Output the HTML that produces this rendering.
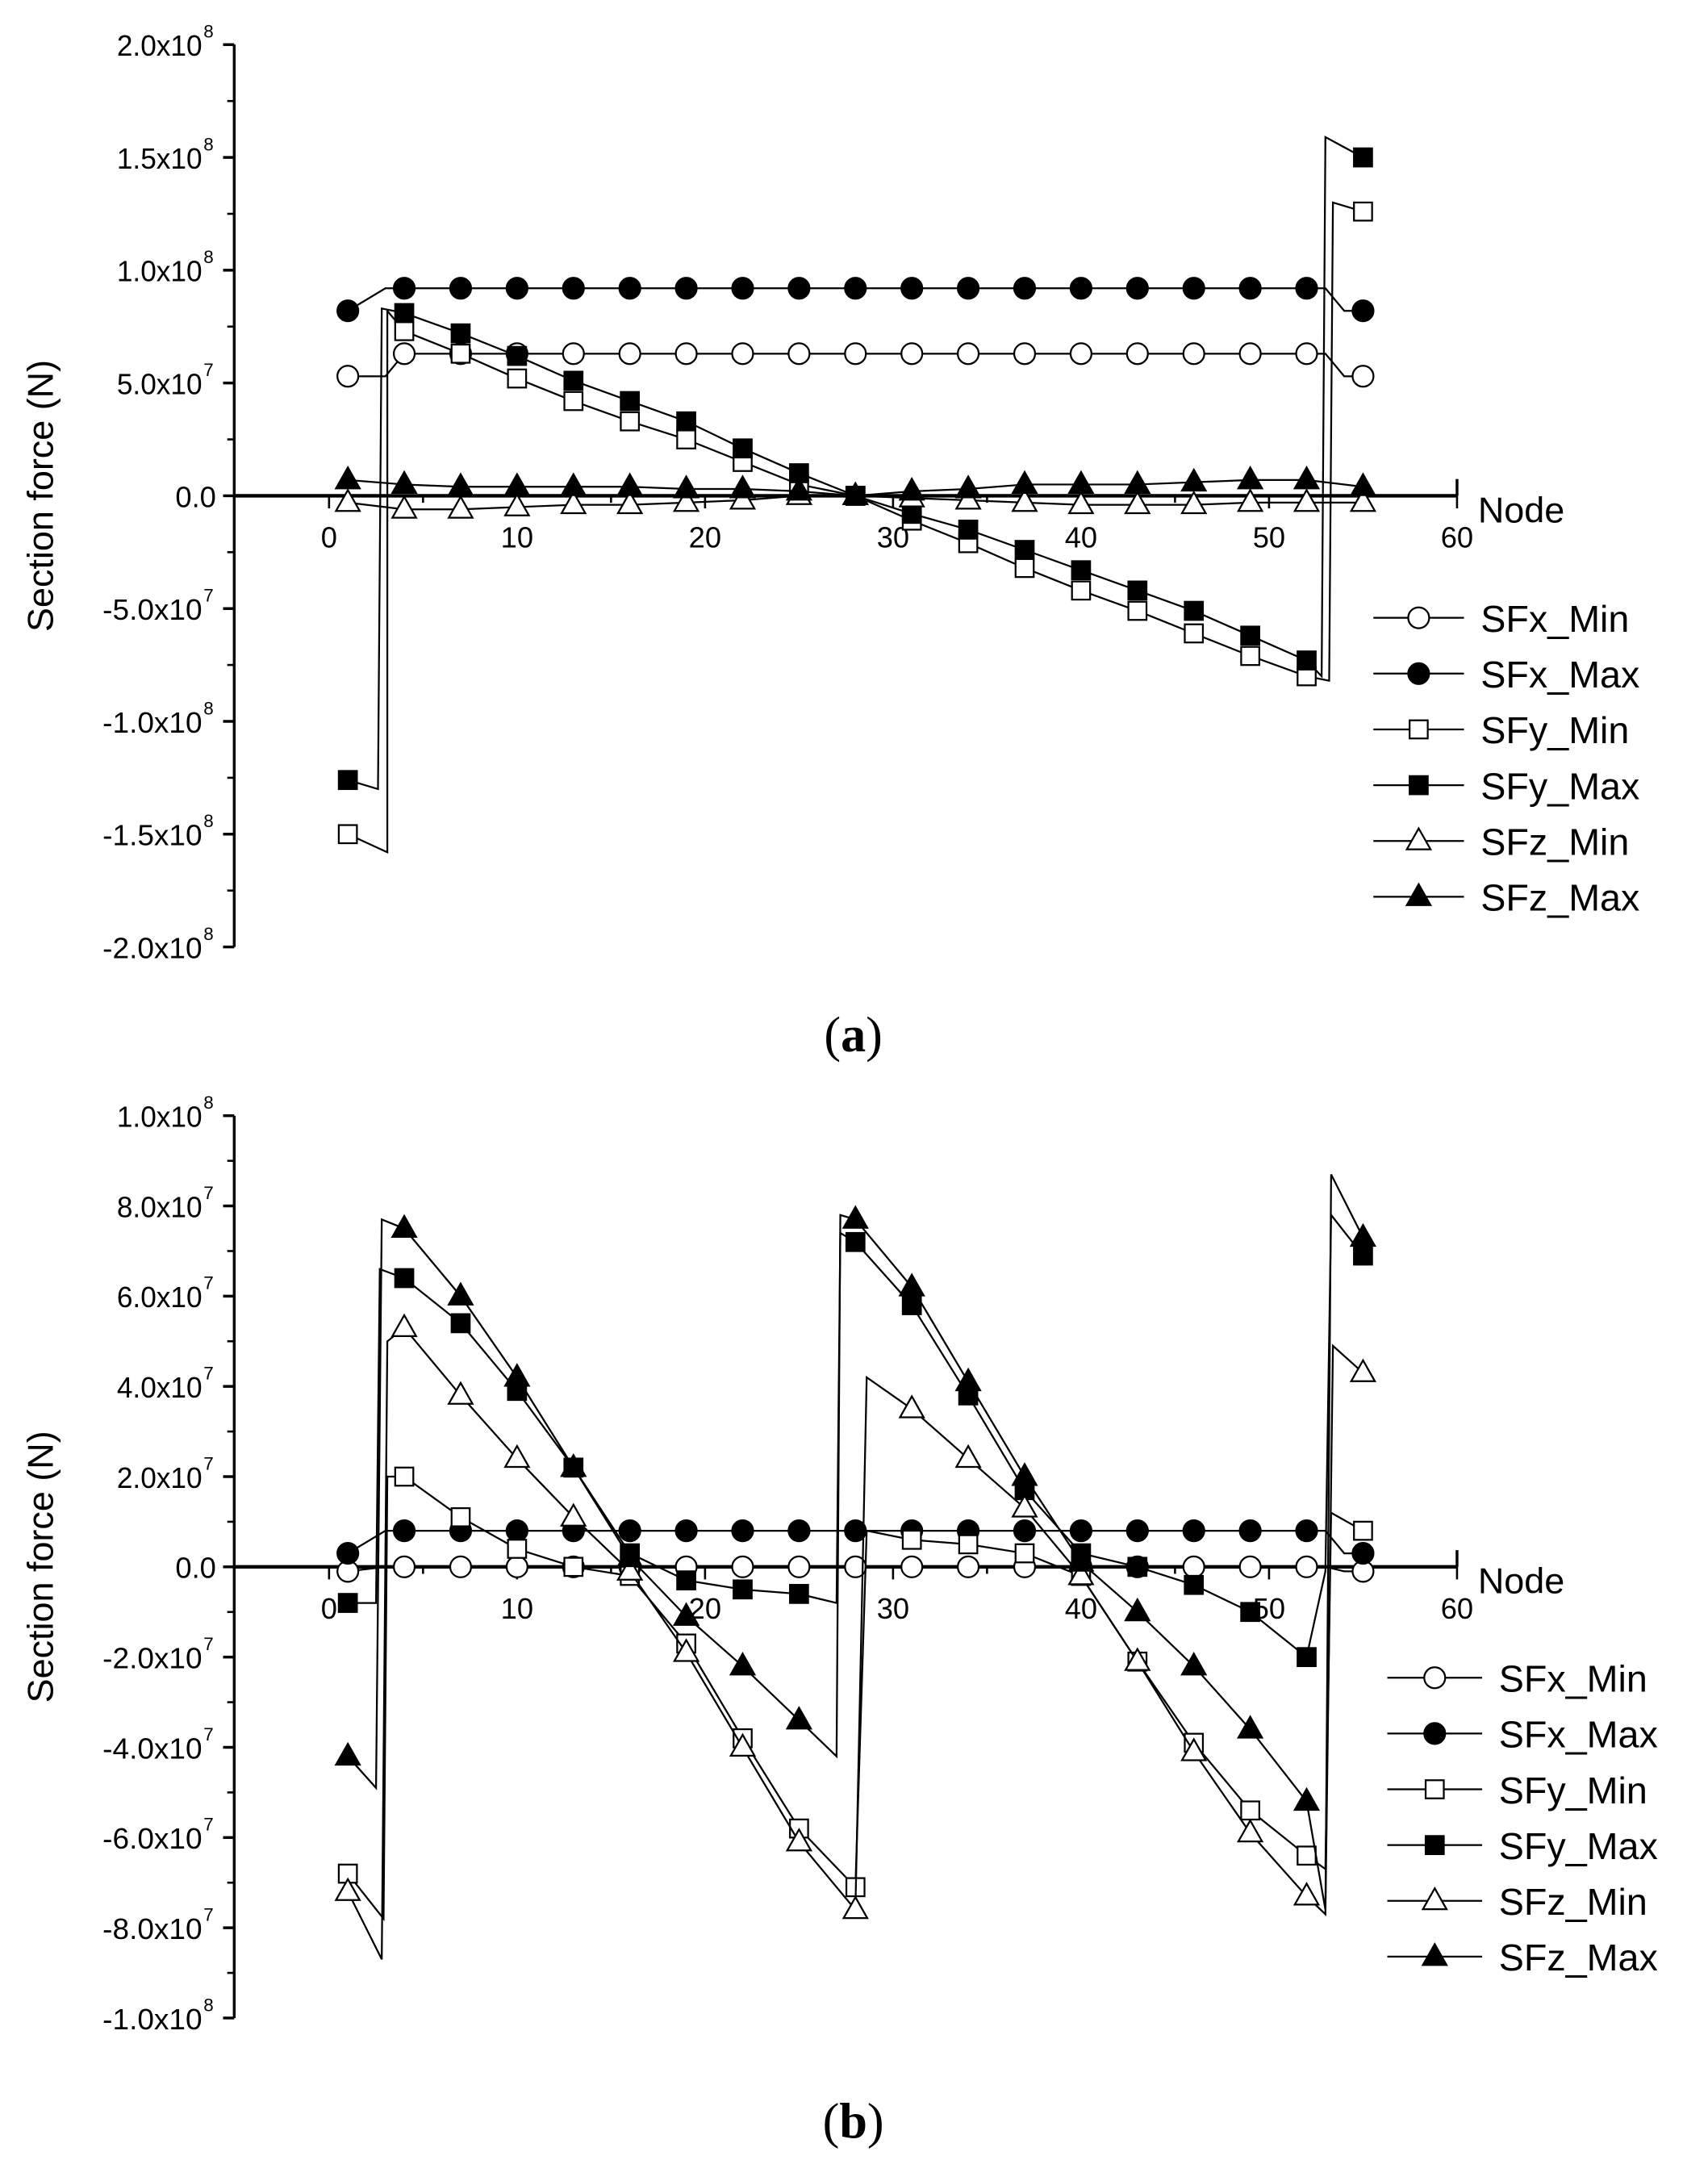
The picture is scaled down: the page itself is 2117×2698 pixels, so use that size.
<!DOCTYPE html>
<html><head><meta charset="utf-8"><style>
html,body{margin:0;padding:0;background:#fff;}
svg{display:block}
text{font-family:"Liberation Sans",Arial,sans-serif;fill:#000}
</style></head><body>
<svg id="s" width="2117" height="2698" viewBox="0 0 1225 1561" preserveAspectRatio="none" xmlns="http://www.w3.org/2000/svg"></svg>
<script>
const S=document.getElementById('s');let h='';
const X0=236,XS=(1045-236)/60;
function px(n){return X0+n*XS;}
function panel(cfg){
  const {top,bot,zero,vmax,nt,labels,pts,leg,cap,capy}=cfg;
  const py=v=>zero-(v/vmax)*(zero-top);
  h+=`<line x1="168" y1="${top}" x2="168" y2="${bot}" stroke="#000" stroke-width="2"/>`;
  for(let i=0;i<nt;i++){const y=top+(bot-top)*i/(nt-1);
    h+=`<line x1="160" y1="${y}" x2="168" y2="${y}" stroke="#000" stroke-width="2"/>`;
    if(i<nt-1){const ym=y+(bot-top)/(nt-1)/2;h+=`<line x1="163" y1="${ym}" x2="168" y2="${ym}" stroke="#000" stroke-width="1.5"/>`;}
    const L=labels[i];
    if(L[1]) h+=`<text x="145" y="${y+8}" font-size="21" text-anchor="end" textLength="${L[0].length*10.2}" lengthAdjust="spacingAndGlyphs">${L[0]}</text><text x="146" y="${y-5}" font-size="13">${L[1]}</text>`;
    else h+=`<text x="155" y="${y+8}" font-size="21" text-anchor="end">${L[0]}</text>`;
  }
  h+=`<line x1="168" y1="${zero}" x2="1045" y2="${zero}" stroke="#000" stroke-width="2.5"/>`;
  for(let n=0;n<=60;n+=5){const x=px(n);h+=`<line x1="${x}" y1="${zero}" x2="${x}" y2="${zero+(n%10?5:9)}" stroke="#000" stroke-width="1.5"/>`;
    if(n%10==0)h+=`<text x="${x}" y="${zero+37}" font-size="21" text-anchor="middle">${n}</text>`;}
  h+=`<line x1="1045" y1="${zero}" x2="1045" y2="${zero-12}" stroke="#000" stroke-width="2"/>`;
  h+=`<text x="1060" y="${zero+19}" font-size="26">Node</text>`;
  h+=`<text transform="translate(38,${zero}) rotate(-90)" font-size="26" text-anchor="middle">Section force (N)</text>`;
  const names=['SFx_Min','SFx_Max','SFy_Min','SFy_Max','SFz_Min','SFz_Max'];
  names.forEach((nm,k)=>{
    const p=pts[k];
    h+=`<polyline fill="none" stroke="#000" stroke-width="1.3" points="${p.map(q=>px(q[0]).toFixed(1)+','+py(q[1]).toFixed(1)).join(' ')}"/>`;
    p.forEach(q=>{if(Math.abs(q[0]-Math.round(q[0]))<1e-6&&(q[0]-1)%3==0&&!q[2])h+=mk(k,px(q[0]),py(q[1]));});
  });
  names.forEach((nm,k)=>{const y=leg.y+k*40;
    h+=`<line x1="${leg.x1}" y1="${y}" x2="${leg.x2}" y2="${y}" stroke="#000" stroke-width="1.3"/>`;
    h+=mk(k,(leg.x1+leg.x2)/2,y);
    h+=`<text x="${leg.tx}" y="${y+10}" font-size="27">${nm}</text>`;});
  h+=`<text x="612" y="${capy}" font-size="36" text-anchor="middle" style="font-family:'Liberation Serif',serif">(<tspan font-weight="bold">${cap}</tspan>)</text>`;
}
function mk(k,x,y){
  const f=(k%2)?'#000':'#fff';
  if(k<2)return `<circle cx="${x}" cy="${y}" r="7.5" fill="${f}" stroke="#000" stroke-width="1.3"/>`;
  if(k<4)return `<rect x="${x-6.5}" y="${y-6.5}" width="13" height="13" fill="${f}" stroke="#000" stroke-width="1.3"/>`;
  return `<polygon points="${x},${y-9} ${x+8.5},${y+6} ${x-8.5},${y+6}" fill="${f}" stroke="#000" stroke-width="1.3"/>`;
}
function seq(arr){return arr.map((v,i)=>[1+3*i,v]);}
const a=[
 [[1,5.3],[3,5.3],[4,6.3],[7,6.3],[10,6.3],[13,6.3],[16,6.3],[19,6.3],[22,6.3],[25,6.3],[28,6.3],[31,6.3],[34,6.3],[37,6.3],[40,6.3],[43,6.3],[46,6.3],[49,6.3],[52,6.3],[53,6.3],[54,5.3],[55,5.3]],
 [[1,8.2],[3,9.2],[4,9.2],[7,9.2],[10,9.2],[13,9.2],[16,9.2],[19,9.2],[22,9.2],[25,9.2],[28,9.2],[31,9.2],[34,9.2],[37,9.2],[40,9.2],[43,9.2],[46,9.2],[49,9.2],[52,9.2],[53,9.2],[54,8.2],[55,8.2]],
 [[1,-15],[3.1,-15.8],[3.1,8.2],...seq([0,7.3,6.3,5.2,4.2,3.3,2.5,1.5,0.5,0,-1.1,-2.1,-3.2,-4.2,-5.1,-6.1,-7.1,-8.0]).slice(1),[53.2,-8.2],[53.4,13],[55,12.6]],
 [[1,-12.6],[2.6,-13],[2.8,8.3],...seq([0,8.1,7.2,6.2,5.1,4.2,3.3,2.1,1.0,0,-0.8,-1.5,-2.4,-3.3,-4.2,-5.1,-6.2,-7.3]).slice(1),[52.8,-8.0],[53,15.9],[55,15.0]],
 seq([-0.3,-0.6,-0.6,-0.5,-0.4,-0.4,-0.3,-0.2,0,0,-0.1,-0.2,-0.3,-0.4,-0.4,-0.4,-0.3,-0.3,-0.3]),
 seq([0.7,0.5,0.4,0.4,0.4,0.4,0.3,0.3,0.2,0,0.2,0.3,0.5,0.5,0.5,0.6,0.7,0.7,0.4])
];
panel({top:32,bot:679,zero:355.5,vmax:20,nt:9,
 labels:[['2.0x10','8'],['1.5x10','8'],['1.0x10','8'],['5.0x10','7'],['0.0',''],['-5.0x10','7'],['-1.0x10','8'],['-1.5x10','8'],['-2.0x10','8']],
 pts:a,leg:{x1:985,x2:1050,tx:1062,y:443},cap:'a',capy:754});
const flat=(v0,v,v1)=>{const r=[[1,v0],[3,v]];for(let n=4;n<=52;n+=3)r.push([n,v]);r.push([53,v],[54,v1],[55,v1]);return r;};
const b=[
 flat(-0.1,0,-0.1),
 flat(0.3,0.8,0.3),
 [[1,-6.8],[2.9,-7.8],[3.1,2.0],[4,2.0],[7,1.1],[10,0.4],[13,0],[16,-0.2],[19,-1.7],[22,-3.8],[25,-5.8],[28,-7.1],[28.6,0.8],[31,0.6],[34,0.5],[37,0.3],[40,-0.2],[43,-2.1],[46,-3.9],[49,-5.4],[52,-6.4],[53,-6.7],[53.3,1.2],[55,0.8]],
 [[1,-0.8],[2.5,-0.8],[2.7,6.6],[4,6.4],[7,5.4],[10,3.9],[13,2.2],[16,0.3],[19,-0.3],[22,-0.5],[25,-0.6],[27,-0.8],[27.2,7.4],[28,7.2],[31,5.8],[34,3.8],[37,1.7],[40,0.3],[43,0],[46,-0.4],[49,-1.0],[52,-2.0],[53,-0.1],[53.3,7.8],[55,6.9]],
 [[1,-7.2],[2.8,-8.7],[3.1,5.0],[4,5.3],[7,3.8],[10,2.4],[13,1.1],[16,-0.1],[19,-1.9],[22,-4.0],[25,-6.1],[28,-7.6],[28.6,4.2],[31,3.5],[34,2.4],[37,1.3],[40,-0.2],[43,-2.1],[46,-4.1],[49,-5.9],[52,-7.3],[53,-7.7],[53.4,4.9],[55,4.3]],
 [[1,-4.2],[2.5,-4.9],[2.8,7.7],[4,7.5],[7,6.0],[10,4.2],[13,2.2],[16,0.2],[19,-1.1],[22,-2.2],[25,-3.4],[27,-4.2],[27.2,7.8],[28,7.7],[31,6.2],[34,4.1],[37,2.0],[40,0.1],[43,-1.0],[46,-2.2],[49,-3.6],[52,-5.2],[53,-7.6],[53.3,8.7],[55,7.3]]
];
panel({top:800,bot:1447,zero:1123.5,vmax:10,nt:11,
 labels:[['1.0x10','8'],['8.0x10','7'],['6.0x10','7'],['4.0x10','7'],['2.0x10','7'],['0.0',''],['-2.0x10','7'],['-4.0x10','7'],['-6.0x10','7'],['-8.0x10','7'],['-1.0x10','8']],
 pts:b,leg:{x1:995,x2:1063,tx:1075,y:1203},cap:'b',capy:1533});
S.innerHTML=h;
</script>
</body></html>
